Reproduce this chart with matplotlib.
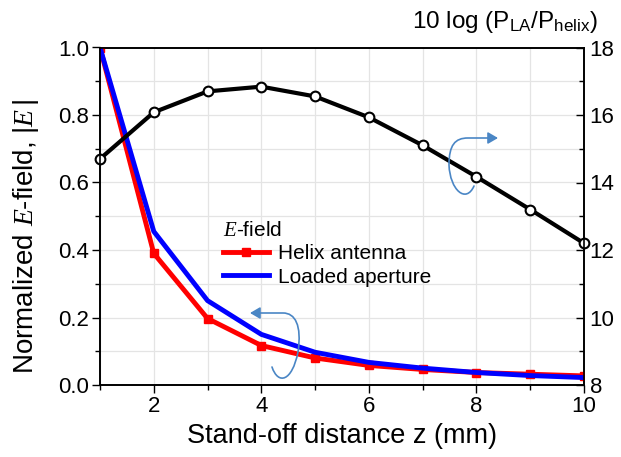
import matplotlib
matplotlib.use("Agg")
import matplotlib.pyplot as plt
from matplotlib.patches import FancyArrowPatch
from matplotlib.path import Path
from matplotlib.ticker import FormatStrFormatter, MultipleLocator

plt.rcParams["font.family"] = ["Liberation Sans", "DejaVu Sans"]
plt.rcParams["mathtext.fontset"] = "custom"
plt.rcParams["mathtext.rm"] = "Liberation Sans"
plt.rcParams["mathtext.it"] = "Liberation Serif:italic"

distance = [1, 2, 3, 4, 5, 6, 7, 8, 9, 10]
helix_field = [1.0, 0.39, 0.197, 0.117, 0.08, 0.058, 0.046, 0.037, 0.032, 0.027]
aperture_field = [1.0, 0.455, 0.25, 0.15, 0.097, 0.067, 0.05, 0.037, 0.028, 0.022]
power_ratio_db = [14.7, 16.08, 16.7, 16.84, 16.55, 15.93, 15.1, 14.17, 13.2, 12.2]

W, H = 621, 457
fig = plt.figure(figsize=(W / 100, H / 100), dpi=100)
ax = fig.add_axes([100 / W, 1 - 385 / H, 484 / W, 337.5 / H])
ax2 = ax.twinx()

ax.plot(distance, helix_field, color="#ff0000", linewidth=3.5, marker="s", markersize=6,
        label="Helix antenna", zorder=3)
ax.plot(distance, aperture_field, color="#0000ff", linewidth=3.5, label="Loaded aperture", zorder=4)
ax2.plot(distance, power_ratio_db, color="black", linewidth=3, marker="o", markersize=7,
         markerfacecolor="white", markeredgecolor="black", markeredgewidth=1.5, clip_on=False)

ax.set_xlim(1, 10)
ax.set_ylim(0, 1.0)
ax2.set_ylim(8, 18)
ax.xaxis.set_major_locator(MultipleLocator(2))
ax.xaxis.set_minor_locator(MultipleLocator(1))
ax.yaxis.set_major_locator(MultipleLocator(0.2))
ax.yaxis.set_minor_locator(MultipleLocator(0.1))
ax2.yaxis.set_major_locator(MultipleLocator(2))
ax2.yaxis.set_minor_locator(MultipleLocator(1))
ax.yaxis.set_major_formatter(FormatStrFormatter("%.1f"))

ax.grid(True, which="both", color="#e4e4e4", linewidth=0.9)
ax.set_axisbelow(True)
ax.tick_params(axis="both", which="major", labelsize=16, length=6, width=1, pad=2)
ax.tick_params(axis="both", which="minor", length=3.5, width=1)
ax2.tick_params(axis="y", which="major", direction="in", labelsize=16, length=6, width=1, pad=4)
ax2.tick_params(axis="y", which="minor", direction="in", length=3.5, width=1)
for spine in list(ax.spines.values()) + list(ax2.spines.values()):
    spine.set_linewidth(1.2)

ax.set_xlabel("Stand-off distance z (mm)", fontsize=19.5, labelpad=4)
ax.set_ylabel(r"Normalized $E$-field, $|E\,|$", fontsize=20, labelpad=5)
ax.yaxis.set_label_coords(-0.122, 0.44)
fig.text(598 / W, 1 - 22 / H, r"10 log (P$_{\mathrm{LA}}$/P$_{\mathrm{helix}}$)", fontsize=17.5,
         ha="right", va="center")

leg = ax.legend(loc="upper left", bbox_to_anchor=(0.237, 0.51), frameon=False, fontsize=15,
                title=r"$E$-field", title_fontsize=15, handlelength=2.2,
                borderaxespad=0, labelspacing=0.2, handletextpad=0.45)
leg._legend_box.align = "left"

arrow_color = "#4a86c5"


def curved_arrow(points):
    pts = [(x / W, 1 - y / H) for x, y in points]
    codes = [Path.MOVETO] + [Path.CURVE4] * (len(pts) - 2) + [Path.LINETO]
    patch = FancyArrowPatch(path=Path(pts, codes), arrowstyle="-|>,head_length=6,head_width=3.5",
                            color=arrow_color, linewidth=1.2, transform=fig.transFigure)
    fig.patches.append(patch)


curved_arrow([(272, 367), (278, 385), (292, 382), (298, 352),
              (302, 325), (295, 313), (283, 313), (250, 313)])
curved_arrow([(474, 186), (466, 204), (450, 190), (449, 165),
              (449, 145), (455, 138), (468, 138), (498, 138)])

fig.savefig("out.png", dpi=100)
